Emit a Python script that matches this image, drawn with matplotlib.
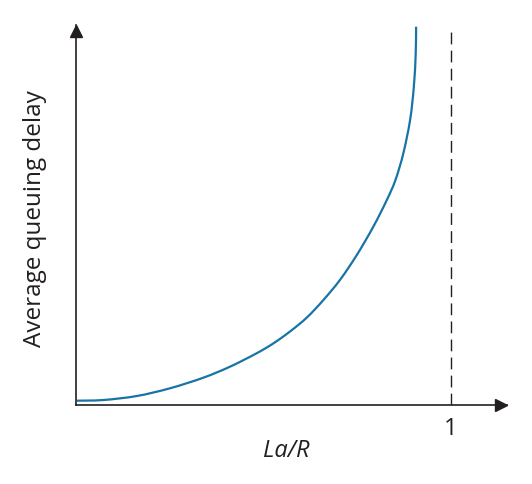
import matplotlib
matplotlib.use('Agg')
import matplotlib.pyplot as plt
import matplotlib.transforms as mtrans
from matplotlib.path import Path
from matplotlib.patches import PathPatch
import numpy as np

plt.rcParams['font.family'] = ['Open Sans', 'DejaVu Sans']

# curve: load (La/R) vs average queuing delay (arbitrary units)
load = [0.003, 0.074, 0.163, 0.251, 0.340, 0.411, 0.482, 0.527, 0.571, 0.616,
        0.660, 0.704, 0.749, 0.793, 0.829, 0.852, 0.873, 0.891, 0.901, 0.906, 0.907]
delay = [0.040, 0.047, 0.087, 0.164, 0.270, 0.380, 0.514, 0.614, 0.732, 0.872,
         1.047, 1.247, 1.497, 1.780, 2.047, 2.247, 2.514, 2.847, 3.180, 3.514, 3.780]
asymptote = 1
x_label = 'La/R'
y_label = 'Average queuing delay'


def smooth_path(xs, ys):
    # catmull-rom through the points, as cubic bezier segments
    p = np.column_stack([xs, ys])
    p = np.vstack([p[0], p, p[-1]])
    verts = [p[1]]
    codes = [Path.MOVETO]
    for i in range(1, len(p) - 2):
        c1 = p[i] + (p[i + 1] - p[i - 1]) / 6
        c2 = p[i + 1] - (p[i + 2] - p[i]) / 6
        verts += [c1, c2, p[i + 1]]
        codes += [Path.CURVE4] * 3
    return Path(verts, codes)


W, H = 532, 484
fig = plt.figure(figsize=(W / 100, H / 100), dpi=100)
left, right, bottom, top = 75.7, 507, 404.7, 25
ax = fig.add_axes([left / W, 1 - bottom / H, (right - left) / W, (bottom - top) / H])
ax.set_xlim(0, (right - left) / 375.3)
ax.set_ylim(0, (bottom - top) / 100)

ax.add_patch(PathPatch(smooth_path(load, delay), facecolor='none',
                       edgecolor='#1774a6', lw=1.6, capstyle='butt'))
ax.plot([asymptote, asymptote], [0, 3.79], color='#231f20', lw=1.0, dashes=(8.5, 4.5))

# axes with arrow heads
for s in ['top', 'right']:
    ax.spines[s].set_visible(False)
for s in ['left', 'bottom']:
    ax.spines[s].set_color('#231f20')
    ax.spines[s].set_linewidth(1.2)
ax.set_xticks([])
ax.set_yticks([])
off_x = mtrans.ScaledTranslation(-6 / 100, 0, fig.dpi_scale_trans)
off_y = mtrans.ScaledTranslation(0, -6 / 100, fig.dpi_scale_trans)
ax.plot(1, 0, marker='>', color='#231f20', ms=9, clip_on=False,
        transform=ax.transAxes + off_x)
ax.plot(0, 1, marker='^', color='#231f20', ms=9, clip_on=False,
        transform=ax.transAxes + off_y)

ax.text(asymptote, -0.24, '1', ha='center', va='center', fontsize=17, color='#231f20')
ax.text((286.7 - left) / 375.3, -0.465, x_label, ha='center', va='center',
        fontsize=17, style='italic', color='#231f20')
fig.text(35 / W, 1 - 219 / H, y_label, rotation=90, ha='center', va='center',
         fontsize=17.5, color='#231f20')

fig.savefig('out.png', dpi=100)
